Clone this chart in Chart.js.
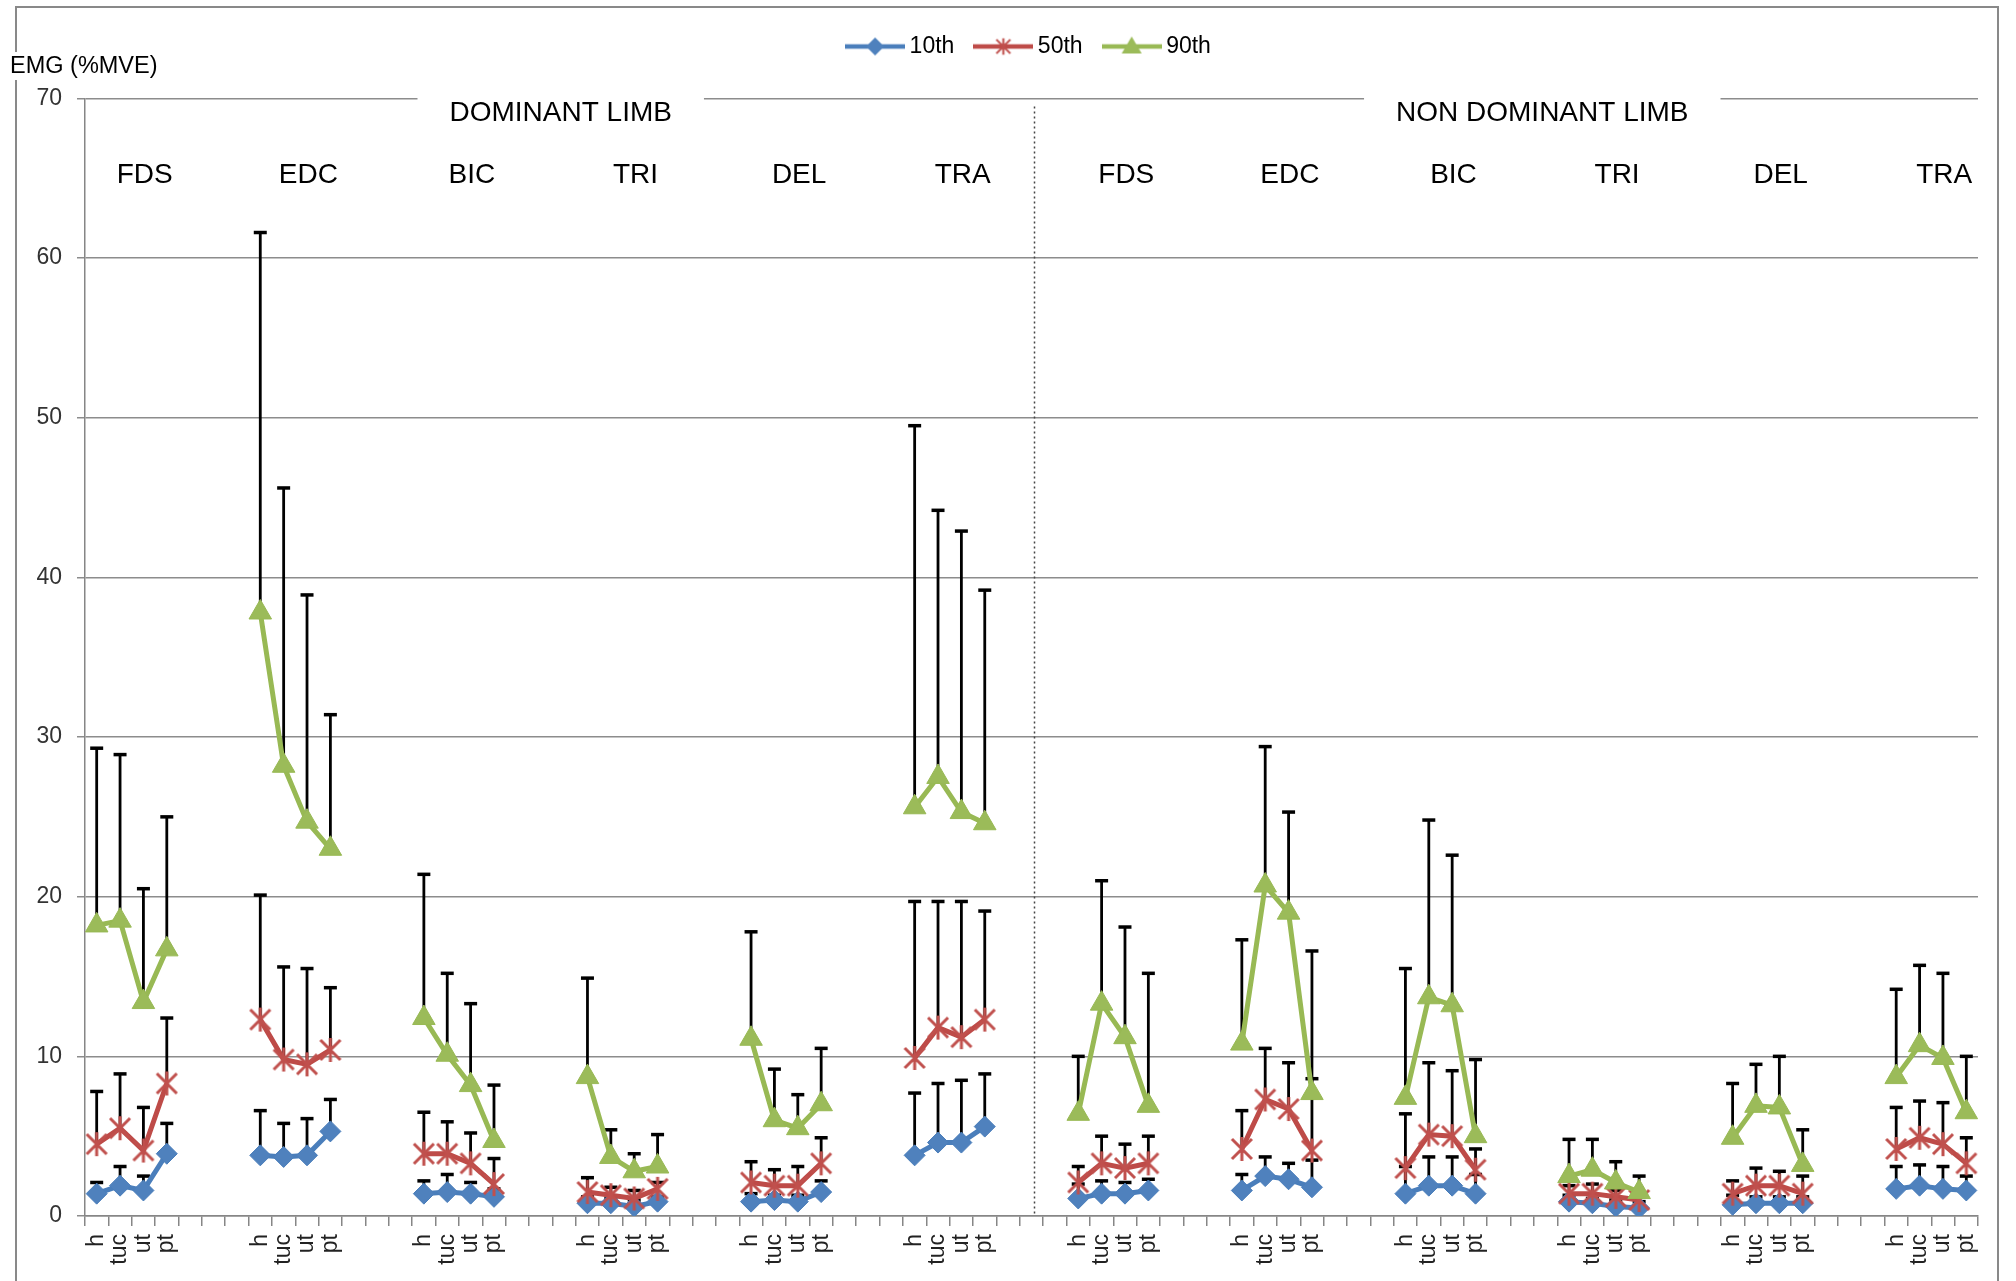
<!DOCTYPE html>
<html>
<head>
<meta charset="utf-8">
<title>EMG percentiles by posture</title>
<script src="https://cdn.jsdelivr.net/npm/chart.js@4.4.1/dist/chart.umd.min.js"></script>
<style>
  html, body { margin: 0; padding: 0; background: #fff; }
  #wrap { width: 2016px; height: 1281px; position: relative; }
</style>
</head>
<body>
<div id="wrap"><canvas id="emgChart"></canvas></div>
<script>
const limbs = ['DOMINANT LIMB', 'NON DOMINANT LIMB'];
const muscles = ['FDS', 'EDC', 'BIC', 'TRI', 'DEL', 'TRA'];
const postures = ['h', 'tuc', 'ut', 'pt'];
const seriesNames = ['10th', '50th', '90th'];
const yTicks = [0, 10, 20, 30, 40, 50, 60, 70];

// one row per muscle (dominant limb first), columns h, tuc, ut, pt
const p10 = [
  1.4, 1.9, 1.6, 3.9,
  3.8, 3.7, 3.8, 5.3,
  1.4, 1.5, 1.4, 1.2,
  0.8, 0.8, 0.6, 0.9,
  0.9, 1.0, 0.9, 1.5,
  3.8, 4.6, 4.6, 5.6,
  1.1, 1.4, 1.4, 1.6,
  1.6, 2.5, 2.3, 1.8,
  1.4, 1.9, 1.9, 1.4,
  0.9, 0.8, 0.6, 0.5,
  0.7, 0.8, 0.8, 0.8,
  1.7, 1.9, 1.7, 1.6
];
const p50 = [
  4.5, 5.5, 4.1, 8.3,
  12.3, 9.8, 9.5, 10.4,
  3.9, 3.9, 3.3, 2.0,
  1.5, 1.3, 1.1, 1.7,
  2.1, 1.9, 1.9, 3.3,
  9.9, 11.8, 11.2, 12.3,
  2.1, 3.3, 3.0, 3.3,
  4.2, 7.3, 6.7, 4.1,
  3.0, 5.1, 5.0, 2.9,
  1.4, 1.4, 1.2, 1.0,
  1.4, 1.9, 1.9, 1.4,
  4.2, 4.9, 4.5, 3.3
];
const p90 = [
  18.2, 18.5, 13.4, 16.7,
  37.8, 28.2, 24.7, 23.0,
  12.4, 10.1, 8.2, 4.7,
  8.7, 3.7, 2.8, 3.1,
  11.1, 6.0, 5.5, 7.0,
  25.6, 27.5, 25.3, 24.6,
  6.4, 13.3, 11.2, 6.9,
  10.8, 20.7, 19.0, 7.7,
  7.4, 13.7, 13.2, 5.0,
  2.5, 2.9, 2.1, 1.5,
  4.9, 6.9, 6.8, 3.2,
  8.7, 10.7, 9.9, 6.5
];

// upper end of each error bar
const p10Top = [
  2.1, 3.1, 2.5, 5.8,
  6.6, 5.8, 6.1, 7.3,
  2.2, 2.6, 2.1, 1.7,
  1.2, 1.1, 1.0, 1.2,
  1.4, 1.3, 1.3, 2.2,
  7.7, 8.3, 8.5, 8.9,
  2.0, 2.2, 2.1, 2.3,
  2.6, 3.7, 3.3, 3.5,
  3.1, 3.7, 3.7, 2.6,
  1.3, 1.1, 1.0, 0.9,
  1.3, 1.2, 1.2, 1.2,
  3.1, 3.2, 3.1, 2.5
];
const p50Top = [
  7.8, 8.9, 6.8, 12.4,
  20.1, 15.6, 15.5, 14.3,
  6.5, 5.9, 5.2, 3.6,
  2.4, 1.8, 1.6, 2.1,
  3.4, 2.9, 3.1, 4.9,
  19.7, 19.7, 19.7, 19.1,
  3.1, 5.0, 4.5, 5.0,
  6.6, 10.5, 9.6, 8.6,
  6.4, 9.6, 9.1, 4.2,
  1.9, 2.0, 1.6, 1.3,
  2.2, 3.0, 2.8, 2.5,
  6.8, 7.2, 7.1, 4.9
];
const p90Top = [
  29.3, 28.9, 20.5, 25.0,
  61.6, 45.6, 38.9, 31.4,
  21.4, 15.2, 13.3, 8.2,
  14.9, 5.4, 3.9, 5.1,
  17.8, 9.2, 7.6, 10.5,
  49.5, 44.2, 42.9, 39.2,
  10.0, 21.0, 18.1, 15.2,
  17.3, 29.4, 25.3, 16.6,
  15.5, 24.8, 22.6, 9.8,
  4.8, 4.8, 3.4, 2.5,
  8.3, 9.5, 10.0, 5.4,
  14.2, 15.7, 15.2, 10.0
];

const GAP = 3; // empty categories between muscles
const FONT = '"Liberation Sans", Arial, sans-serif';
const lineColors = ['#4a7ebb', '#be4b48', '#98b954'];
const markColors = ['#4f81bd', '#c0504d', '#9bbb59'];

// spread 48 values over the category axis, with nulls in the gaps
function spread(values) {
  const out = [];
  values.forEach((v, i) => {
    if (i > 0 && i % postures.length === 0) {
      for (let g = 0; g < GAP; g++) out.push(null);
    }
    out.push(v);
  });
  return out;
}

const labels = [];
limbs.forEach((limb, l) => {
  muscles.forEach((m, k) => {
    if (l || k) for (let g = 0; g < GAP; g++) labels.push('');
    postures.forEach(p => labels.push(p));
  });
});

// excel-like star marker: an X with a vertical stroke
function starMark(color) {
  const c = document.createElement('canvas');
  c.width = 26; c.height = 26;
  const g = c.getContext('2d');
  g.strokeStyle = color;
  g.lineWidth = 3;
  g.beginPath();
  g.moveTo(3, 3); g.lineTo(23, 23);
  g.moveTo(23, 3); g.lineTo(3, 23);
  g.moveTo(13, 1); g.lineTo(13, 25);
  g.stroke();
  return c;
}

// legend swatch: line segment with the marker in the middle
function legendIcon(i) {
  const c = document.createElement('canvas');
  c.width = 60; c.height = 26;
  const g = c.getContext('2d');
  g.strokeStyle = lineColors[i];
  g.lineWidth = 4.5;
  g.beginPath(); g.moveTo(0, 13); g.lineTo(60, 13); g.stroke();
  g.fillStyle = markColors[i];
  g.beginPath();
  if (i === 0) {
    g.moveTo(30, 4); g.lineTo(39, 13); g.lineTo(30, 22); g.lineTo(21, 13);
    g.fill();
  } else if (i === 1) {
    g.drawImage(starMark(markColors[1]), 21, 4, 18, 18);
  } else {
    g.moveTo(30, 3); g.lineTo(40, 20); g.lineTo(20, 20);
    g.fill();
  }
  return c;
}

const starImg = starMark(markColors[1]);
const tops = [p10Top, p50Top, p90Top].map(spread);

const errorBars = {
  id: 'errorBars',
  beforeDatasetsDraw(chart) {
    const ctx = chart.ctx;
    const ys = chart.scales.y;
    ctx.save();
    ctx.strokeStyle = '#000';
    chart.data.datasets.forEach((ds, i) => {
      const meta = chart.getDatasetMeta(i);
      ds.data.forEach((v, j) => {
        if (v === null) return;
        const x = meta.data[j].x;
        const y0 = ys.getPixelForValue(v);
        const y1 = ys.getPixelForValue(tops[i][j]);
        ctx.lineWidth = 2.8;
        ctx.beginPath(); ctx.moveTo(x, y0); ctx.lineTo(x, y1); ctx.stroke();
        ctx.lineWidth = 3.5;
        ctx.beginPath(); ctx.moveTo(x - 6.5, y1); ctx.lineTo(x + 6.5, y1); ctx.stroke();
      });
    });
    // divider between the two limbs, in the middle gap category
    const xs = chart.scales.x;
    const a = chart.chartArea;
    const dx = xs.getPixelForValue((labels.length - 1) / 2) + 3;
    ctx.setLineDash([2, 3]);
    ctx.lineWidth = 1.5;
    ctx.strokeStyle = '#444';
    ctx.beginPath(); ctx.moveTo(dx, a.top + 8); ctx.lineTo(dx, a.bottom); ctx.stroke();
    ctx.restore();
  }
};

const decorations = {
  id: 'decorations',
  beforeDraw(chart) {
    const ctx = chart.ctx;
    ctx.save();
    ctx.fillStyle = '#fff';
    ctx.fillRect(0, 0, chart.width, chart.height);
    ctx.strokeStyle = '#898989';
    ctx.lineWidth = 2;
    ctx.strokeRect(16, 7, 1982, 1400);
    ctx.restore();
  },
  afterDraw(chart) {
    const ctx = chart.ctx;
    const xs = chart.scales.x;
    const a = chart.chartArea;
    const per = muscles.length * (postures.length + GAP);
    ctx.save();
    ctx.textBaseline = 'middle';

    // axis title in the top left corner
    ctx.font = '23.5px ' + FONT;
    ctx.textAlign = 'left';
    const tw = ctx.measureText('EMG (%MVE)').width;
    ctx.fillStyle = '#fff';
    ctx.fillRect(8, 52, tw + 6, 28);
    ctx.fillStyle = '#000';
    ctx.fillText('EMG (%MVE)', 10, 67);

    ctx.textAlign = 'center';
    ctx.font = '28px ' + FONT;
    limbs.forEach((limb, l) => {
      const first = l * per;
      const last = first + per - GAP - 1;
      const cx = (xs.getPixelForValue(first) + xs.getPixelForValue(last)) / 2 + 20;
      const w = ctx.measureText(limb).width;
      ctx.fillStyle = '#fff';
      ctx.fillRect(cx - w / 2 - 32, a.top - 5, w + 64, 34);
      ctx.fillStyle = '#000';
      ctx.fillText(limb, cx, a.top + 15);
      muscles.forEach((m, k) => {
        const start = first + k * (postures.length + GAP);
        const mx = (xs.getPixelForValue(start + 1) + xs.getPixelForValue(start + 2)) / 2 + 13;
        ctx.fillText(m, mx, a.top + 77);
      });
    });
    ctx.restore();
  }
};

Chart.defaults.font.family = FONT;

const ctx = document.getElementById('emgChart').getContext('2d');
const chart = new Chart(ctx, {
  type: 'line',
  data: {
    labels: labels,
    datasets: [
      {
        label: seriesNames[0],
        data: spread(p10),
        borderColor: lineColors[0],
        backgroundColor: markColors[0],
        pointStyle: 'rectRot',
        pointRadius: 10.5,
        pointBorderWidth: 1,
        pointBorderColor: lineColors[0],
        order: 3
      },
      {
        label: seriesNames[1],
        data: spread(p50),
        borderColor: lineColors[1],
        backgroundColor: markColors[1],
        pointStyle: starImg,
        pointRadius: 10,
        order: 2
      },
      {
        label: seriesNames[2],
        data: spread(p90),
        borderColor: lineColors[2],
        backgroundColor: markColors[2],
        pointStyle: 'triangle',
        pointRadius: 13,
        pointBorderWidth: 1,
        pointBorderColor: lineColors[2],
        order: 1
      }
    ].map(ds => Object.assign(ds, { borderWidth: 5, tension: 0, spanGaps: false, fill: false }))
  },
  options: {
    responsive: true,
    maintainAspectRatio: false,
    devicePixelRatio: 1,
    animation: false,
    events: [],
    layout: { padding: { left: 0, right: 38, top: 9, bottom: 0 } },
    plugins: {
      legend: {
        position: 'top',
        fullSize: false,
        labels: {
          usePointStyle: true,
          pointStyleWidth: 46,
          boxHeight: 23,
          padding: 26,
          color: '#222',
          font: { size: 23 },
          generateLabels: (c) => c.data.datasets.map((ds, i) => ({
            text: ds.label,
            pointStyle: legendIcon(i),
            fillStyle: ds.backgroundColor,
            strokeStyle: ds.borderColor,
            lineWidth: 0,
            hidden: false,
            datasetIndex: i
          }))
        }
      },
      // empty spacer between the legend and the plot
      subtitle: { display: true, text: '', weight: 500, font: { size: 12 }, padding: { top: 0, bottom: 16 } },
      tooltip: { enabled: false }
    },
    scales: {
      x: {
        type: 'category',
        offset: true,
        afterFit: (s) => { s.height = 65; },
        grid: { display: true, drawOnChartArea: false, drawTicks: true, tickLength: 10, color: '#868686', lineWidth: 1.5, offset: true },
        border: { display: true, color: '#868686', width: 1.5 },
        ticks: { autoSkip: false, minRotation: 90, maxRotation: 90, padding: 8, color: '#222', font: { size: 23 } }
      },
      y: {
        min: yTicks[0],
        max: yTicks[yTicks.length - 1],
        afterFit: (s) => { s.width = 85; },
        afterBuildTicks: (s) => { s.ticks = yTicks.map(v => ({ value: v })); },
        grid: { color: '#8c8c8c', lineWidth: 1.5, tickLength: 8 },
        border: { display: true, color: '#868686', width: 1.5 },
        ticks: { padding: 15, color: '#333', font: { size: 23 } }
      }
    }
  },
  plugins: [errorBars, decorations]
});
</script>
</body>
</html>
